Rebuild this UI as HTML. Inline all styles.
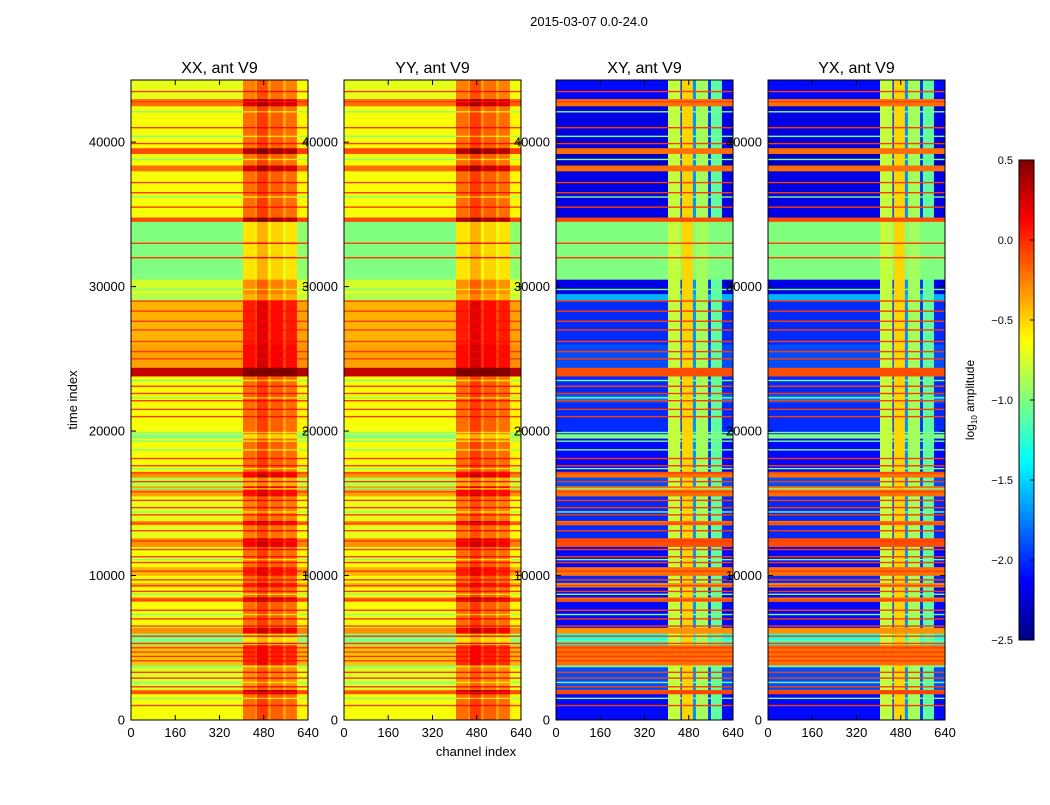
<!DOCTYPE html>
<html><head><meta charset="utf-8"><style>
body{margin:0;background:#fff;}
text{font-family:"Liberation Sans",sans-serif;fill:#000;}
</style></head><body>
<svg id="fig" width="1050" height="800" xmlns="http://www.w3.org/2000/svg">
<rect width="1050" height="800" fill="#fff"/>
<text x="589" y="26" font-size="13" text-anchor="middle">2015-03-07 0.0-24.0</text>
<g id="imgs"></g><g id="axes"></g>
</svg>
<script>
// time bands: end time (start = previous end), parallel value (XX/YY), cross value (XY/YX)
const bandEnd=[1800,2100,3700,3800,5200,6000,6400,8200,8500,9200,9500,10000,10600,12000,12600,13500,13800,15500,16200,16800,17200,19500,19800,22000,22500,23800,24400,26000,29000,29500,30500,34500,34800,38000,38400,39200,39600,42500,43000,44300];
const parVal=[-0.65,-0.2,-0.75,-1.0,-0.45,-1.0,-0.3,-0.65,-0.2,-0.65,-0.4,-0.65,-0.4,-0.65,-0.3,-0.7,-0.3,-0.7,-0.35,-0.85,-0.3,-0.65,-1.0,-0.65,-0.6,-0.65,0.3,-0.35,-0.4,-0.85,-0.75,-1.0,-0.1,-0.65,-0.2,-0.65,-0.1,-0.65,-0.2,-0.7];
const crossVal=[-2.1,-0.1,-1.9,-1.2,-0.2,-1.3,-0.3,-2.1,-0.2,-2.1,-0.3,-2.0,-0.2,-2.1,-0.1,-2.0,-0.2,-2.0,-0.2,-1.9,-0.2,-2.1,-1.0,-2.0,-1.8,-2.0,-0.1,-1.9,-2.0,-1.6,-2.2,-1.0,-0.1,-2.2,-0.2,-2.3,-0.2,-2.2,-0.2,-2.1];
// thin lines
const redLines=[1000,1900,2300,2900,3300,4100,4400,4700,5000,5300,5800,6500,7000,7600,8300,8900,9300,9700,10300,10900,11300,11800,12400,13100,13600,14200,14700,15200,15800,16500,17100,17600,18100,21000,21500,22100,22600,23100,25000,25500,26200,27000,27600,28300,29000,32000,33000,35500,36500,37200,39900,41000,42800,43500];
const greenLines=[1500,2600,3700,5500,7300,8700,11100,14400,16000,17400,18700,19300,19900,22300,23500,29800,31200,33500,36200,38800,40400,42100];
const redVal=-0.05, greenVal=-1.0;
// channel zones
const chEnd=[405,450,455,495,506,550,560,600,620,640];
const parOff=[0,0.45,0.3,0.6,0.35,0.5,0.3,0.45,0.05,0.05];
const crossCol=[-2.5,-0.8,-2.0,-0.5,-1.7,-0.9,-2.0,-1.1,-2.3,-2.3];
const yTicks=[0,10000,20000,30000,40000];
const xTicks=[0,160,320,480,640];
const cbTicks=[0.5,0.0,-0.5,-1.0,-1.5,-2.0,-2.5];
const titles=["XX, ant V9","YY, ant V9","XY, ant V9","YX, ant V9"];
const lefts=[131,344,556,768];
const W=177,TOP=80,BOT=720,YMAX=44300,XMAX=640,VMIN=-2.5,VMAX=0.5;
const NS="http://www.w3.org/2000/svg";
function yS(t){return BOT-(t/YMAX)*(BOT-TOP);}
function xS(c,l){return l+(c/XMAX)*W;}
function jet(v){let t=(v-VMIN)/(VMAX-VMIN);t=Math.max(0,Math.min(1,t));
 const f=x=>Math.round(255*Math.max(0,Math.min(1,1.5-Math.abs(4*t-x))));
 return `rgb(${f(3)},${f(2)},${f(1)})`;}
function mk(tag,at,par){const e=document.createElementNS(NS,tag);for(const k in at)e.setAttribute(k,at[k]);par.appendChild(e);return e;}
const imgs=document.getElementById('imgs'),axes=document.getElementById('axes');
function cellVal(row,j,cross){return cross?Math.max(row,crossCol[j]):row+parOff[j];}
titles.forEach((ti,p)=>{
 const l=lefts[p],cross=p>=2;
 const g=mk('g',{},imgs);
 
 
 for(let i=0;i<bandEnd.length;i++){
  const s=i?bandEnd[i-1]:0;
  for(let j=0;j<chEnd.length;j++){
   const cs=j?chEnd[j-1]:0;
   const v=cellVal(cross?crossVal[i]:parVal[i],j,cross);
   const y1=yS(bandEnd[i]),y0=yS(s);
   const r=mk('rect',{x:xS(cs,l),y:y1,width:xS(chEnd[j],l)-xS(cs,l)+0.3,height:y0-y1+0.3,fill:jet(v)},g);
   
   
  }}
 [[redLines,redVal],[greenLines,greenVal]].forEach(([arr,val])=>{
  arr.forEach(t=>{for(let j=0;j<chEnd.length;j++){
   const cs=j?chEnd[j-1]:0;
   const v=cross?(val>-0.5?val:Math.max(val,crossCol[j])):val+parOff[j]*(val>-0.5?0.3:1);
   const r=mk('rect',{x:xS(cs,l),y:yS(t)-0.7,width:xS(chEnd[j],l)-xS(cs,l)+0.3,height:1.4,fill:jet(v)},g);
   
   
  }});
 });
 const ax=mk('g',{},axes);
 
 
 mk('rect',{x:l,y:TOP,width:W,height:BOT-TOP,fill:'none',stroke:'#000','stroke-width':1},ax);
 const tt=mk('text',{x:l+W/2,y:TOP-7,'font-size':16,'text-anchor':'middle'},ax);tt.textContent=ti;
 
 
 yTicks.forEach(v=>{const y=yS(v);
  mk('line',{x1:l,x2:l+5,y1:y,y2:y,stroke:'#000'},ax);mk('line',{x1:l+W,x2:l+W-5,y1:y,y2:y,stroke:'#000'},ax);
  const t=mk('text',{x:l-6,y:y+4.5,'font-size':13,'text-anchor':'end'},ax);t.textContent=v;
  
  });
 xTicks.forEach(v=>{const x=xS(v,l);
  mk('line',{x1:x,x2:x,y1:BOT,y2:BOT-5,stroke:'#000'},ax);mk('line',{x1:x,x2:x,y1:TOP,y2:TOP+5,stroke:'#000'},ax);
  const t=mk('text',{x:x,y:BOT+17,'font-size':13,'text-anchor':'middle'},ax);t.textContent=v;
  
  });
});
const yl=mk('text',{x:0,y:0,'font-size':13,'text-anchor':'middle',transform:'translate(77,400) rotate(-90)'},axes);yl.textContent='time index';


const xl=mk('text',{x:476,y:756,'font-size':13,'text-anchor':'middle'},axes);xl.textContent='channel index';


// colorbar
const cb=mk('g',{},axes);


const CBX=1019,CBW=15,CBT=160,CBB=640;
for(let k=0;k<120;k++){const v=VMIN+(k+0.5)/120*(VMAX-VMIN);const y0=CBB-(k+1)/120*(CBB-CBT);
 mk('rect',{x:CBX,y:y0,width:CBW,height:(CBB-CBT)/120+0.5,fill:jet(v)},cb);}
mk('rect',{x:CBX,y:CBT,width:CBW,height:CBB-CBT,fill:'none',stroke:'#000'},cb);
cbTicks.forEach(v=>{const y=CBB-(v-VMIN)/(VMAX-VMIN)*(CBB-CBT);
 mk('line',{x1:CBX+CBW,x2:CBX+CBW-4,y1:y,y2:y,stroke:'#000'},cb);
 const t=mk('text',{x:1013,y:y+4,'font-size':11,'text-anchor':'end'},cb);t.textContent=v.toFixed(1).replace('-','\u2212');
 
 });
const cl=mk('text',{x:0,y:0,'font-size':12,'text-anchor':'middle',transform:'translate(974,400) rotate(-90)'},axes);
cl.innerHTML='log<tspan font-size="8" dy="3">10</tspan><tspan dy="-3"> amplitude</tspan>';


</script>
</body></html>
